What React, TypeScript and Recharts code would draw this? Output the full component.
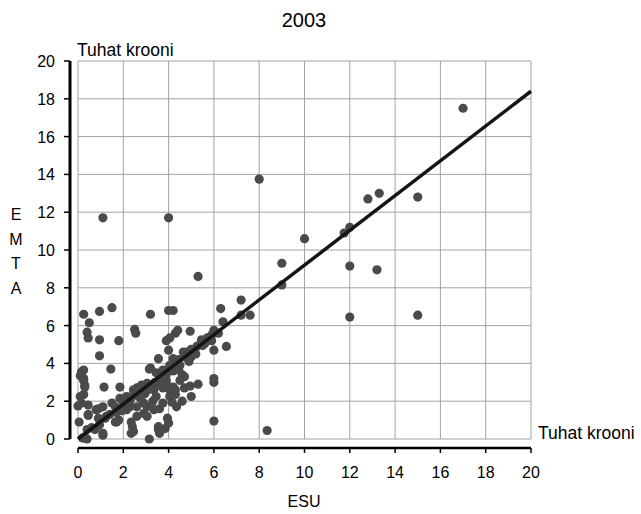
import { CartesianGrid, Scatter, ScatterChart, XAxis, YAxis } from "recharts";

// ESU (x) vs EMTA (y), both in thousand kroons, year 2003.
const esuValues = [
  17.0, 8.0, 12.8, 13.3, 15.0, 11.75, 12.0, 10.0, 9.0, 9.0, 12.0, 13.2, 7.2, 7.2, 7.6, 12.0, 15.0, 1.1, 4.0, 5.3, 8.35, 6.0,
  6.3, 6.4, 3.2, 4.0, 4.2, 0.25, 0.95, 1.5, 0.5, 0.4, 0.45, 0.95, 1.8, 2.5, 2.55, 4.4, 4.3, 4.95, 6.0, 5.9, 4.05, 3.9,
  5.45, 5.7, 5.9, 6.55, 5.25, 5.0, 4.8, 6.0, 4.0, 4.65, 0.95, 3.55, 4.2, 4.45, 5.0, 4.05, 4.35, 3.2, 3.75, 4.6, 4.7,
  6.0, 6.0, 3.6, 3.9, 4.95, 1.45, 0.25, 0.1, 0.25, 0.3, 1.15, 1.85, 3.15, 3.45, 2.45, 2.75, 3.05, 3.35, 3.75, 4.05, 4.3,
  2.6, 2.8, 3.05, 3.25, 4.45, 4.5, 4.3, 0.1, 0.25, 0.45, 0.0, 0.45, 0.8, 1.1, 1.5, 1.65, 1.85, 2.0, 2.15, 2.3, 2.45,
  1.8, 1.65, 1.25, 0.95, 1.1, 0.05, 0.4, 0.3, 0.4, 0.2, 2.35, 2.4, 2.35, 2.6, 2.9, 3.05, 3.05, 3.35, 3.6, 3.75, 3.15,
  3.55, 3.6, 3.95, 4.0, 4.35, 5.0, 4.2, 4.05, 3.6, 3.45, 3.3, 2.75, 2.9, 2.6, 2.95, 2.15, 1.95, 1.7, 2.3, 0.15, 0.25,
  0.3, 0.15, 0.9, 0.45, 0.9, 0.75, 1.1, 1.7, 2.45, 3.85, 3.55, 5.5, 5.6, 5.2, 4.9, 4.5, 4.2, 3.9, 3.7, 3.4, 5.8, 6.2,
  5.4, 4.8, 2.2, 1.4, 1.2, 0.6, 2.6, 3.1, 3.9, 4.7, 5.3, 4.6, 4.15,
];
const emtaValues = [
  17.5, 13.75, 12.7, 13.0, 12.8, 10.9, 11.2, 10.6, 9.3, 8.15, 9.15, 8.95, 7.35, 6.55, 6.55, 6.45, 6.55, 11.7, 11.7, 8.6, 0.45, 0.95,
  6.9, 6.2, 6.6, 6.8, 6.8, 6.6, 6.75, 6.95, 6.15, 5.65, 5.35, 5.25, 5.2, 5.8, 5.6, 5.75, 5.6, 5.7, 5.75, 5.5, 5.35, 5.2,
  5.25, 5.35, 5.2, 4.9, 4.9, 4.75, 4.6, 4.7, 4.7, 4.6, 4.4, 4.25, 4.25, 4.2, 4.35, 3.9, 3.85, 3.75, 3.65, 3.4, 3.3,
  3.2, 3.0, 3.3, 3.1, 2.8, 3.7, 3.65, 3.35, 3.2, 2.85, 2.75, 2.75, 3.7, 3.5, 2.6, 2.75, 2.85, 2.6, 2.7, 2.6, 2.35,
  2.7, 2.85, 2.95, 2.85, 3.65, 3.1, 2.6, 2.25, 2.35, 1.8, 1.75, 1.3, 1.55, 1.7, 1.9, 1.7, 2.15, 1.95, 2.25, 2.05, 2.35,
  1.0, 0.9, 1.2, 0.75, 0.3, 0.9, 0.5, 0.1, 0.0, 0.05, 0.9, 0.65, 0.3, 1.2, 1.35, 1.2, 1.7, 1.55, 1.6, 1.9, 0.0,
  0.65, 0.3, 1.1, 0.85, 1.7, 2.25, 2.75, 2.25, 2.85, 2.25, 2.0, 2.15, 1.9, 1.7, 2.4, 1.55, 1.5, 1.4, 1.7, 3.55, 3.1,
  2.75, 1.9, 1.6, 1.25, 1.1, 0.5, 0.2, 0.9, 0.4, 0.55, 0.5, 4.95, 5.05, 4.5, 4.1, 3.9, 3.6, 3.4, 3.2, 3.0, 5.3, 5.6,
  5.0, 4.3, 1.85, 1.3, 1.1, 0.6, 2.3, 2.6, 2.9, 2.7, 2.9, 2.0, 1.95,
];

// trend line through the origin
const trendEsu = [0, 20];
const trendEmta = [0, 18.4];

const axisTicks = [0, 2, 4, 6, 8, 10, 12, 14, 16, 18, 20];

const points = esuValues.map((x, i) => ({ x, y: emtaValues[i] }));
const trend = trendEsu.map((x, i) => ({ x, y: trendEmta[i] }));

const FONT = '"Liberation Sans", Arial, sans-serif';

// the old Excel look: axis lines sit a few px off the plot area
const axisCss = `
.recharts-xAxis .recharts-cartesian-axis-line,
.recharts-xAxis .recharts-cartesian-axis-tick-line { transform: translateY(9px); }
.recharts-yAxis .recharts-cartesian-axis-line,
.recharts-yAxis .recharts-cartesian-axis-tick-line { transform: translateX(-8px); }
`;

const XTick = ({ x, y, payload }: any) => (
  <text x={x} y={y + 32} textAnchor="middle" fontSize={16} fill="#000" fontFamily={FONT}>
    {payload.value}
  </text>
);

const YTick = ({ x, y, payload }: any) => (
  <text x={x - 15} y={y + 6} textAnchor="end" fontSize={16} fill="#000" fontFamily={FONT}>
    {payload.value}
  </text>
);

const Dot = ({ cx, cy }: any) => <circle cx={cx} cy={cy} r={4.6} fill="#4a4a4a" />;

export default function App() {
  return (
    <div style={{ position: "absolute", left: 0, top: 0, width: 641, height: 514, background: "#fff", fontFamily: FONT }}>
      <style>{axisCss}</style>
      <ScatterChart width={641} height={514} margin={{ top: 61, right: 110, bottom: 0, left: 0 }}>
        <CartesianGrid stroke="#a3a3a3" strokeWidth={1} />
        <XAxis
          type="number"
          dataKey="x"
          domain={[0, 20]}
          ticks={axisTicks}
          height={75}
          stroke="#000"
          tickSize={5}
          axisLine={{ stroke: "#000", strokeWidth: 2.5 }}
          tickLine={{ stroke: "#000", strokeWidth: 1.5 }}
          tick={<XTick />}
          interval={0}
        />
        <YAxis
          type="number"
          dataKey="y"
          domain={[0, 20]}
          ticks={axisTicks}
          width={78}
          stroke="#000"
          tickSize={6}
          axisLine={{ stroke: "#000", strokeWidth: 3 }}
          tickLine={{ stroke: "#000", strokeWidth: 1.5 }}
          tick={<YTick />}
          interval={0}
        />
        <Scatter data={points} shape={<Dot />} isAnimationActive={false} legendType="none" />
        <Scatter
          data={trend}
          line={{ stroke: "#151515", strokeWidth: 3.5 }}
          shape={() => <g />}
          isAnimationActive={false}
          legendType="none"
        />
      </ScatterChart>
      <svg width={641} height={514} style={{ position: "absolute", left: 0, top: 0, pointerEvents: "none" }}>
        <g fontFamily={FONT} fill="#000">
          <text x={304} y={27} fontSize={20} textAnchor="middle">2003</text>
          <text x={77} y={56} fontSize={17.5}>Tuhat krooni</text>
          <text x={538} y={439} fontSize={17.5}>Tuhat krooni</text>
          <text x={304} y={507} fontSize={16} textAnchor="middle">ESU</text>
          <text x={16} y={220} fontSize={16} textAnchor="middle">E</text>
          <text x={16} y={244.5} fontSize={16} textAnchor="middle">M</text>
          <text x={16} y={269} fontSize={16} textAnchor="middle">T</text>
          <text x={16} y={293.5} fontSize={16} textAnchor="middle">A</text>
        </g>
      </svg>
    </div>
  );
}
